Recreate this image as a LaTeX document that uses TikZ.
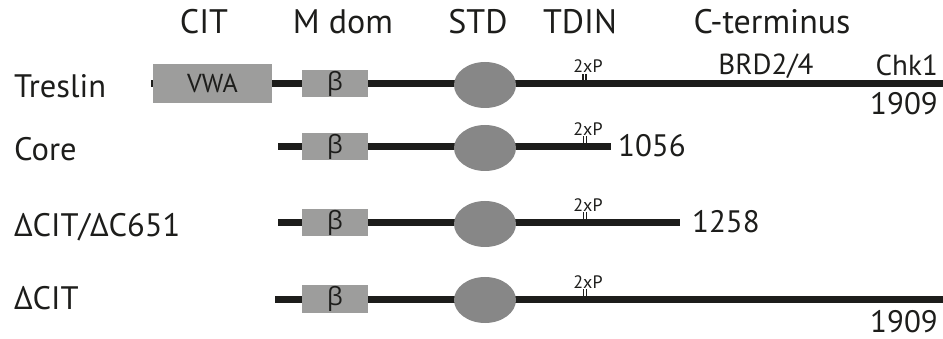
\documentclass[tikz,border=0pt]{standalone}
\usepackage{fontspec}
\setmainfont{PT Sans}
\newfontfamily\grk{Open Sans}
\usetikzlibrary{shapes.geometric}
\definecolor{bb}{HTML}{1D1D1B}
\definecolor{boxgrey}{HTML}{9D9D9C}
\definecolor{elgrey}{HTML}{878787}
\begin{document}
\begin{tikzpicture}[x=1pt,y=-1pt,
  backbone/.style={draw=bb, line width=7pt},
  dombox/.style={fill=boxgrey, inner sep=0, minimum height=27pt, minimum width=66pt, font=\grk\fontsize{25}{30}\selectfont, text=bb},
  stdel/.style={ellipse, fill=elgrey, inner sep=0, minimum width=62pt, minimum height=46pt},
  lab/.style={font=\fontsize{32.5}{40}\selectfont, inner sep=0, anchor=base west, text=bb},
  hdr/.style={font=\fontsize{34}{40}\selectfont, inner sep=0, anchor=base, text=bb},
  num/.style={font=\fontsize{31}{36}\selectfont, inner sep=0, text=bb},
  sml/.style={font=\fontsize{29}{34}\selectfont, inner sep=0, text=bb},
  ptxt/.style={font=\fontsize{18}{20}\selectfont, inner sep=0, anchor=base, text=bb},
  tickl/.style={draw=bb, line width=1.2pt}
]
\useasboundingbox (0,0) rectangle (943,339);

% headers
\node[hdr] (hcit) at (204,34) {CIT};
\node[hdr] (hmdom) at (343,34) {M dom};
\node[hdr] (hstd) at (478,34) {STD};
\node[hdr] (htdin) at (580,34) {TDIN};
\node[hdr] (hct) at (772,34) {C-terminus};

% row labels
\node[lab] (ltres) at (14,98) {Treslin};
\node[lab] (lcore) at (14,161) {Core};
\node[lab] (ldc) at (14,237) {ΔCIT/ΔC651};
\node[lab] (ldcit) at (14,309) {ΔCIT};

% Row 1: Treslin
\coordinate (r1s) at (151,84);
\coordinate (r1e) at (943,84);
\draw[backbone] (r1s) -- (r1e);
\node[dombox, minimum width=119pt, minimum height=39pt, font=\fontsize{26}{30}\selectfont] (vwa) at (212.5,83.5) {VWA};
\node[dombox] (b1) at (335,83.5) {β};
\node[stdel] (s1) at (485,85) {};
\coordinate (p1) at (584.5,84);
\draw[tickl] ([xshift=-1.5pt]p1) -- ++(0,-10);
\draw[tickl] ([xshift=1.5pt]p1) -- ++(0,-10);
\node[ptxt] (t1) at (588,73) {2xP};
\node[sml, anchor=base] (brd) at (766,75) {BRD2/4};
\node[sml, anchor=base east] (chk) at (938,76) {Chk1};
\node[num, anchor=base east] (n1) at (938,115) {1909};

% Row 2: Core
\coordinate (r2s) at (278,146.5);
\coordinate (r2e) at (611,146.5);
\draw[backbone] (r2s) -- (r2e);
\node[dombox] (b2) at (335,146.5) {β};
\node[stdel] (s2) at (485,148) {};
\coordinate (p2) at (585,146.5);
\draw[tickl] ([xshift=-1.5pt]p2) -- ++(0,-10);
\draw[tickl] ([xshift=1.5pt]p2) -- ++(0,-10);
\node[ptxt] (t2) at (588,135.5) {2xP};
\node[num, anchor=base west] (n2) at (618,157) {1056};

% Row 3: dCIT/dC651
\coordinate (r3s) at (278,222.5);
\coordinate (r3e) at (680,222.5);
\draw[backbone] (r3s) -- (r3e);
\node[dombox] (b3) at (335,222.5) {β};
\node[stdel] (s3) at (485,224) {};
\coordinate (p3) at (585,222.5);
\draw[tickl] ([xshift=-1.5pt]p3) -- ++(0,-10);
\draw[tickl] ([xshift=1.5pt]p3) -- ++(0,-10);
\node[ptxt] (t3) at (588,211.5) {2xP};
\node[num, anchor=base west] (n3) at (692,233) {1258};

% Row 4: dCIT
\coordinate (r4s) at (275,299.5);
\coordinate (r4e) at (943,299.5);
\draw[backbone] (r4s) -- (r4e);
\node[dombox] (b4) at (335,299) {β};
\node[stdel] (s4) at (485,300) {};
\coordinate (p4) at (585,299.5);
\draw[tickl] ([xshift=-1.5pt]p4) -- ++(0,-10);
\draw[tickl] ([xshift=1.5pt]p4) -- ++(0,-10);
\node[ptxt] (t4) at (588,288.5) {2xP};
\node[num, anchor=base east] (n4) at (938,332) {1909};
\end{tikzpicture}
\end{document}
